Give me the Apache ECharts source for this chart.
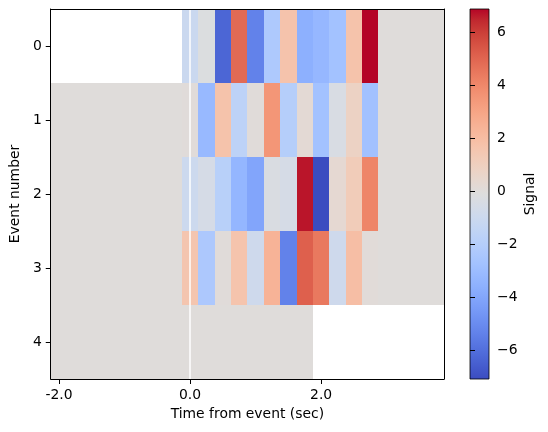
<!DOCTYPE html>
<html>
<head>
<meta charset="utf-8">
<script src="https://cdn.jsdelivr.net/npm/echarts@6/dist/echarts.min.js"></script>
<style>
html,body{margin:0;padding:0;background:#fff;}
#c{width:548px;height:432px;}
</style>
</head>
<body>
<div id="c"></div>
<script>
// ---- DATA ----
const times = [-2.0,-1.75,-1.5,-1.25,-1.0,-0.75,-0.5,-0.25,0.0,0.25,0.5,0.75,1.0,1.25,1.5,1.75,2.0,2.25,2.5,2.75,3.0,3.25,3.5,3.75];
const events = [0,1,2,3,4];
const signalEvent0 = [null,null,null,null,null,null,null,null, -1.07,-0.2,-6.26,4.86,-5.33,-2.27,1.68,-3.58,-3.23,-2.71,1.72,6.88, 0,0,0,0];
const signalEvent1 = [0,0,0,0,0,0,0,0, 0.05,-3.16,1.7,-1.63,0.05,3.53,-1.98,0.25,-2.7,-0.37,0.81,-2.75, 0,0,0,0];
const signalEvent2 = [0,0,0,0,0,0,0,0, -0.97,-0.51,-1.84,-3.3,-4.0,-0.3,-0.55,6.67,-7.07,0.32,1.2,4.09, 0,0,0,0];
const signalEvent3 = [0,0,0,0,0,0,0,0, 1.58,-2.33,0.05,1.66,-0.86,2.42,-5.33,5.14,4.44,-0.86,1.93,0.1, 0,0,0,0];
const signalEvent4 = [0,0,0,0,0,0,0,0, 0,0,0,0,0,0,0,0, null,null,null,null,null,null,null,null];
const signalRows = [signalEvent0, signalEvent1, signalEvent2, signalEvent3, signalEvent4];
const xTickValues = [-2.0, 0.0, 2.0];
const colorbarTickValues = [-6,-4,-2,0,2,4,6];
const eventMarkerTime = 0.0;
const binWidth = 0.25;

// coolwarm colormap
const coolwarm = ['#3b4cc0','#445acc','#4d68d7','#5775e1','#6282ea','#6c8ef1','#779af7','#82a5fb','#8db0fe','#98b9ff','#a3c2ff','#aec9fd','#b8d0f9','#c2d5f4','#ccd9ee','#d5dbe6','#dddddd','#e5d8d1','#ecd3c5','#f1ccb9','#f5c4ad','#f7bba0','#f7b194','#f7a687','#f49a7b','#f18d6f','#ec7f63','#e57058','#de604d','#d55042','#cb3e38','#c0282f','#b40426'];

// ---- build ----
const cells = [];
signalRows.forEach((row, ei) => {
  row.forEach((v, ti) => {
    if (v !== null) cells.push([times[ti], events[ei], v]);
  });
});
const allVals = cells.map(c => c[2]);
const vmin = Math.min(...allVals);
const vmax = Math.max(...allVals);

const font = 'DejaVu Sans';
const fs = 13.9;
const chart = echarts.init(document.getElementById('c'), null, {renderer: 'canvas'});

const tStart = times[0] - binWidth / 2;
const tEnd = times[times.length - 1] + binWidth / 2;

chart.setOption({
  animation: false,
  backgroundColor: '#fff',
  textStyle: {fontFamily: font},
  grid: [
    {left: 48.7, top: 9, width: 395.3, height: 370},
    {left: 470, top: 9, width: 19, height: 370}
  ],
  visualMap: {
    type: 'continuous', show: false, seriesIndex: 0, dimension: 2,
    min: vmin, max: vmax, inRange: {color: coolwarm}
  },
  xAxis: [
    {
      gridIndex: 0, type: 'value', min: tStart, max: tEnd, position: 'bottom',
      axisLine: {show: true, onZero: false, lineStyle: {color: '#000', width: 1}},
      axisTick: {show: true, length: 5, customValues: xTickValues, lineStyle: {color: '#000'}},
      axisLabel: {show: true, margin: 9, customValues: xTickValues, color: '#000', fontSize: fs, fontFamily: font,
        formatter: v => v.toFixed(1)},
      splitLine: {show: false},
      name: 'Time from event (sec)', nameLocation: 'middle', nameGap: 27,
      nameTextStyle: {color: '#000', fontSize: fs, fontFamily: font},
      z: 10
    },
    {
      gridIndex: 0, type: 'value', min: tStart, max: tEnd, position: 'top',
      axisLine: {show: true, onZero: false, lineStyle: {color: '#000', width: 1}},
      axisTick: {show: false}, axisLabel: {show: false}, splitLine: {show: false}, z: 10
    },
    {gridIndex: 1, type: 'value', min: 0, max: 1, show: false}
  ],
  yAxis: [
    {
      gridIndex: 0, type: 'value', min: -0.5, max: 4.5, inverse: true, position: 'left',
      axisLine: {show: true, onZero: false, lineStyle: {color: '#000', width: 1}},
      axisTick: {show: true, length: 5, customValues: events, lineStyle: {color: '#000'}},
      axisLabel: {show: true, margin: 9, customValues: events, color: '#000', fontSize: fs, fontFamily: font},
      splitLine: {show: false},
      name: 'Event number', nameLocation: 'middle', nameGap: 26,
      nameTextStyle: {color: '#000', fontSize: fs, fontFamily: font},
      z: 10
    },
    {
      gridIndex: 0, type: 'value', min: -0.5, max: 4.5, inverse: true, position: 'right',
      axisLine: {show: true, onZero: false, lineStyle: {color: '#000', width: 1}},
      axisTick: {show: false}, axisLabel: {show: false}, splitLine: {show: false}, z: 10
    },
    {
      gridIndex: 1, type: 'value', min: vmin, max: vmax, position: 'right',
      axisLine: {show: false},
      axisTick: {show: true, length: 5, customValues: colorbarTickValues, lineStyle: {color: '#000'}},
      axisLabel: {show: true, margin: 8, customValues: colorbarTickValues, color: '#000', fontSize: fs, fontFamily: font,
        formatter: v => (v < 0 ? '\u2212' + Math.abs(v) : String(v))},
      splitLine: {show: false},
      name: 'Signal', nameLocation: 'middle', nameGap: 34, nameRotate: 90,
      nameTextStyle: {color: '#000', fontSize: fs, fontFamily: font},
      z: 10
    }
  ],
  series: [
    {
      type: 'custom', xAxisIndex: 0, yAxisIndex: 0,
      data: cells,
      encode: {x: 0, y: 1},
      renderItem: function (params, api) {
        const t = api.value(0), e = api.value(1);
        const p1 = api.coord([t - binWidth / 2, e - 0.5]);
        const p2 = api.coord([t + binWidth / 2, e + 0.5]);
        const x0 = Math.round(Math.min(p1[0], p2[0])), x1 = Math.round(Math.max(p1[0], p2[0]));
        const y0 = Math.round(Math.min(p1[1], p2[1])), y1 = Math.round(Math.max(p1[1], p2[1]));
        const color = api.visual('color');
        return {
          type: 'rect',
          shape: {x: x0, y: y0, width: x1 - x0, height: y1 - y0},
          style: {fill: color}
        };
      },
      markLine: {
        silent: true, symbol: ['none', 'none'], animation: false,
        label: {show: false},
        lineStyle: {color: '#ffffff', width: 1.5, type: 'solid'},
        data: [{xAxis: eventMarkerTime}],
        z: 5
      },
      z: 2
    },
    {
      type: 'custom', xAxisIndex: 2, yAxisIndex: 2,
      data: [[0, vmin, vmax]],
      renderItem: function (params, api) {
        const pLow = api.coord([0, api.value(1)]);
        const pHigh = api.coord([1, api.value(2)]);
        const stops = coolwarm.map((c, i) => ({offset: i / (coolwarm.length - 1), color: c}));
        return {
          type: 'rect',
          shape: {x: pLow[0], y: pHigh[1], width: pHigh[0] - pLow[0], height: pLow[1] - pHigh[1]},
          style: {
            fill: new echarts.graphic.LinearGradient(0, 1, 0, 0, stops),
            stroke: '#000', lineWidth: 0.8
          }
        };
      },
      z: 2
    }
  ]
});
</script>
</body>
</html>
